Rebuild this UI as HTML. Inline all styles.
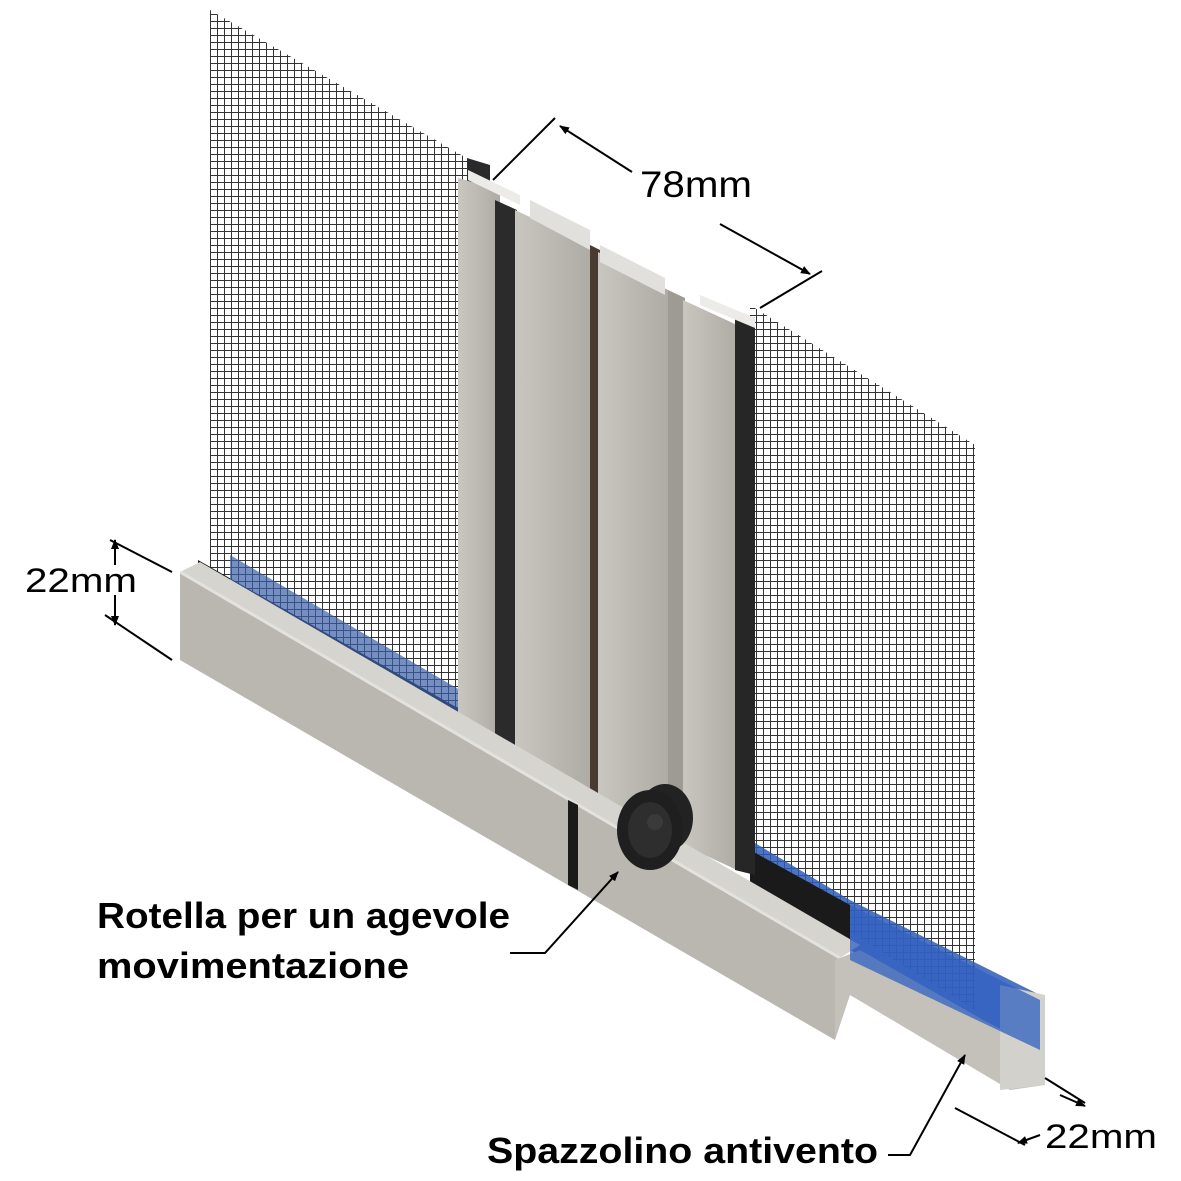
<!DOCTYPE html>
<html><head><meta charset="utf-8"><style>
html,body{margin:0;padding:0;background:#fff;}
svg{display:block;}
text{font-family:"Liberation Sans",sans-serif;}
</style></head><body>
<svg width="1181" height="1181" viewBox="0 0 1181 1181" xmlns="http://www.w3.org/2000/svg">
<defs>
<pattern id="mesh" width="7" height="7" patternUnits="userSpaceOnUse">
<rect width="7" height="7" fill="#fff"/>
<path d="M0 0H7M0 0V7" stroke="#333" stroke-width="2"/>
</pattern>
<marker id="ar" markerWidth="10" markerHeight="10" refX="9" refY="5" orient="auto" markerUnits="userSpaceOnUse"><path d="M0 1 L10 5 L0 9 Z" fill="#000"/></marker>
<linearGradient id="bar" x1="0" x2="1"><stop offset="0" stop-color="#c9c6c0"/><stop offset="1" stop-color="#aeaba5"/></linearGradient>
</defs>
<polygon points="210,10 470,160 470,760 210,600" fill="url(#mesh)"/>
<polygon points="750,305 975,445 975,1010 750,870" fill="url(#mesh)"/>
<polygon points="198,560 470,715 470,740 198,585" fill="#1a1a1a"/>
<polygon points="230,555 460,690 460,735 230,600" fill="#3a5fa8" opacity="0.7"/>
<polygon points="750,840 850,900 1040,995 1040,1050 850,950 750,890" fill="#2e5bb8" opacity="0.85"/>
<polygon points="750,850 850,905 850,940 750,885" fill="#1a1a1a"/>
<polygon points="467,158 490,165 490,760 467,745" fill="#2a2a2a"/>
<polygon points="458,178 500,190 500,755 458,735" fill="url(#bar)"/>
<polygon points="495,200 517,210 517,770 495,760" fill="#2b2b2b"/>
<polygon points="515,210 590,245 590,800 515,770" fill="url(#bar)"/>
<polygon points="530,200 590,230 590,250 530,218" fill="#e2e0dc"/>
<polygon points="590,245 600,250 600,805 590,800" fill="#4a3b32"/>
<polygon points="598,252 668,290 668,830 598,805" fill="url(#bar)"/>
<polygon points="600,245 665,278 665,295 600,262" fill="#e2e0dc"/>
<polygon points="668,290 685,298 685,840 668,832" fill="#9e9b95"/>
<polygon points="683,300 737,325 737,870 683,845" fill="url(#bar)"/>
<polygon points="735,310 755,318 755,875 735,870" fill="#262626"/>
<polygon points="468,170 520,195 520,205 468,180" fill="#ecebe8"/>
<polygon points="700,295 755,318 755,328 700,305" fill="#ecebe8"/>
<polygon points="180,572 200,562 860,945 840,958" fill="#d6d4cf"/>
<polygon points="180,572 840,958 835,1040 180,660" fill="#bab7b1"/>
<line x1="180" y1="572" x2="840" y2="958" stroke="#e4e2de" stroke-width="3"/>
<polygon points="835,960 860,950 1045,1055 1045,1085 1010,1090 850,995 835,1040" fill="#c4c1bb"/>
<polygon points="1000,985 1045,995 1045,1085 1000,1090" fill="#d3d1cc"/>
<polygon points="850,960 1040,1050 1040,1000 850,905" fill="#3060c0" opacity="0.75"/>
<polygon points="568,800 578,805 578,890 568,885" fill="#1a1a1a"/>
<ellipse cx="665" cy="818" rx="28" ry="34" fill="#222"/>
<ellipse cx="650" cy="830" rx="33" ry="40" fill="#1f1f1f"/>
<ellipse cx="650" cy="830" rx="22" ry="28" fill="#2e2e2e"/>
<circle cx="655" cy="822" r="8" fill="#3a3a3a"/>
<g stroke="#000" stroke-width="2" fill="none">
<line x1="493" y1="180" x2="555" y2="118"/>
<line x1="632" y1="172" x2="560" y2="126" marker-end="url(#ar)"/>
<line x1="720" y1="224" x2="810" y2="274" marker-end="url(#ar)"/>
<line x1="760" y1="308" x2="822" y2="271"/>
<line x1="110" y1="540" x2="172" y2="572"/>
<line x1="105" y1="615" x2="172" y2="660"/>
<line x1="115" y1="565" x2="115" y2="540" marker-end="url(#ar)"/>
<line x1="115" y1="595" x2="115" y2="625" marker-end="url(#ar)"/>
<line x1="1045" y1="1078" x2="1085" y2="1103"/>
<line x1="955" y1="1108" x2="1025" y2="1145"/>
<line x1="1060" y1="1095" x2="1085" y2="1106" marker-end="url(#ar)"/>
<line x1="1040" y1="1135" x2="1018" y2="1143" marker-end="url(#ar)"/>
<polyline points="510,953 545,953 618,872" marker-end="url(#ar)"/>
<polyline points="888,1155 910,1155 965,1055" marker-end="url(#ar)"/>
</g>
<text x="640" y="197" font-size="37" textLength="112" lengthAdjust="spacingAndGlyphs">78mm</text>
<text x="25" y="592" font-size="34" textLength="112" lengthAdjust="spacingAndGlyphs">22mm</text>
<text x="1045" y="1148" font-size="34" textLength="112" lengthAdjust="spacingAndGlyphs">22mm</text>
<text x="97" y="928" font-size="36" font-weight="bold" textLength="413" lengthAdjust="spacingAndGlyphs">Rotella per un agevole</text>
<text x="97" y="978" font-size="36" font-weight="bold" textLength="312" lengthAdjust="spacingAndGlyphs">movimentazione</text>
<text x="487" y="1163" font-size="36" font-weight="bold" textLength="391" lengthAdjust="spacingAndGlyphs">Spazzolino antivento</text>
</svg>
</body></html>
